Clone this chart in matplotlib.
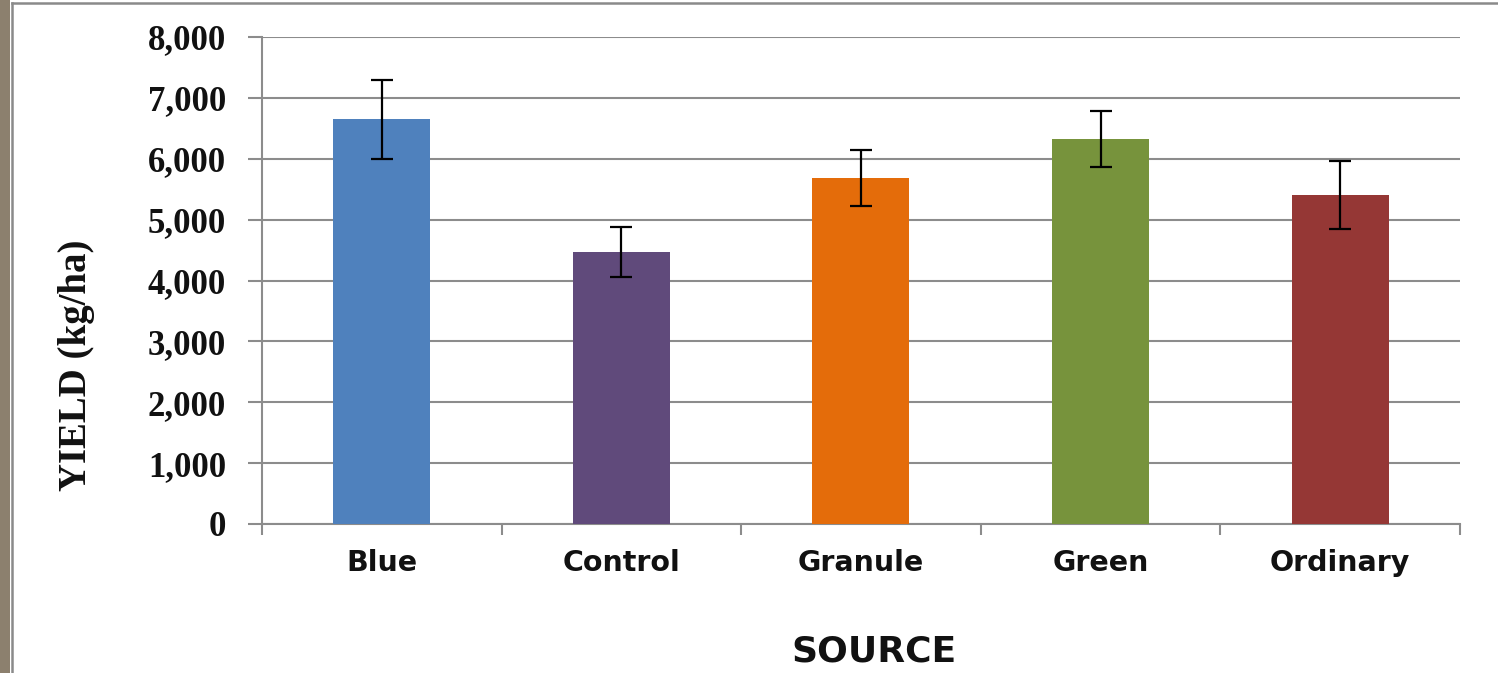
import numpy as np
import matplotlib.pyplot as plt
from matplotlib.patches import Rectangle
from matplotlib.lines import Line2D
from matplotlib.ticker import FuncFormatter

# data
sources = ["Blue", "Control", "Granule", "Green", "Ordinary"]
yield_kg = [6650, 4465, 5685, 6330, 5400]
yield_err = [650, 415, 460, 460, 560]
bar_colors = ["#4F81BD", "#604A7B", "#E46C0A", "#77933C", "#953735"]

fig = plt.figure(figsize=(14.98, 6.73), dpi=100)
fig.patch.set_facecolor("white")

# frame round the picture
fig.add_artist(Rectangle((0, 0), 0.007, 1, transform=fig.transFigure,
                         facecolor="#8C806E", edgecolor="none"))
fig.add_artist(Line2D([0.0082, 0.0082], [0, 0.996], transform=fig.transFigure,
                      color="#8A8A8A", lw=1.8))
fig.add_artist(Line2D([0.0082, 1], [0.996, 0.996], transform=fig.transFigure,
                      color="#8A8A8A", lw=1.8))

ax = fig.add_axes([0.1749, 0.2214, 0.7997, 0.7236])
x = np.arange(len(sources))
ax.bar(x, yield_kg, width=0.405, color=bar_colors, zorder=3)
ax.errorbar(x, yield_kg, yerr=yield_err, fmt="none", ecolor="black",
            elinewidth=1.6, capsize=8, capthick=1.6, zorder=4)

ax.set_xlim(-0.5, len(sources) - 0.5)
ax.set_ylim(0, 8000)
ax.set_yticks(np.arange(0, 8001, 1000))
ax.yaxis.set_major_formatter(FuncFormatter(lambda v, p: f"{int(v):,}"))
ax.grid(axis="y", color="#8C8C8C", lw=1.5, zorder=0)

for side in ["top", "right"]:
    ax.spines[side].set_visible(False)
for side in ["left", "bottom"]:
    ax.spines[side].set_color("#8C8C8C")
    ax.spines[side].set_linewidth(1.5)

ax.set_xticks(x)
ax.set_xticklabels(sources, fontfamily="DejaVu Sans", fontweight="bold",
                   fontsize=20.5, color="#111111")
ax.tick_params(axis="x", length=0, pad=18)
ax.set_xticks(np.arange(-0.5, len(sources), 1.0), minor=True)
ax.tick_params(axis="x", which="minor", length=8, width=1.5, color="#8C8C8C")
ax.tick_params(axis="y", length=10, width=1.5, color="#8C8C8C", pad=16)
for lab in ax.get_yticklabels():
    lab.set_fontfamily("Liberation Serif")
    lab.set_fontweight("bold")
    lab.set_fontsize(25)
    lab.set_color("#111111")

fig.text(874 / 1498, 1 - 651 / 673, "SOURCE", fontfamily="DejaVu Sans",
         fontweight="bold", fontsize=26, color="#111111",
         ha="center", va="center")
ax.set_ylabel("YIELD (kg/ha)", fontfamily="Liberation Serif", fontweight="bold",
              fontsize=28, color="#111111")
ax.yaxis.set_label_coords(-0.139, 0.325)

fig.savefig("out.png", dpi=100)
